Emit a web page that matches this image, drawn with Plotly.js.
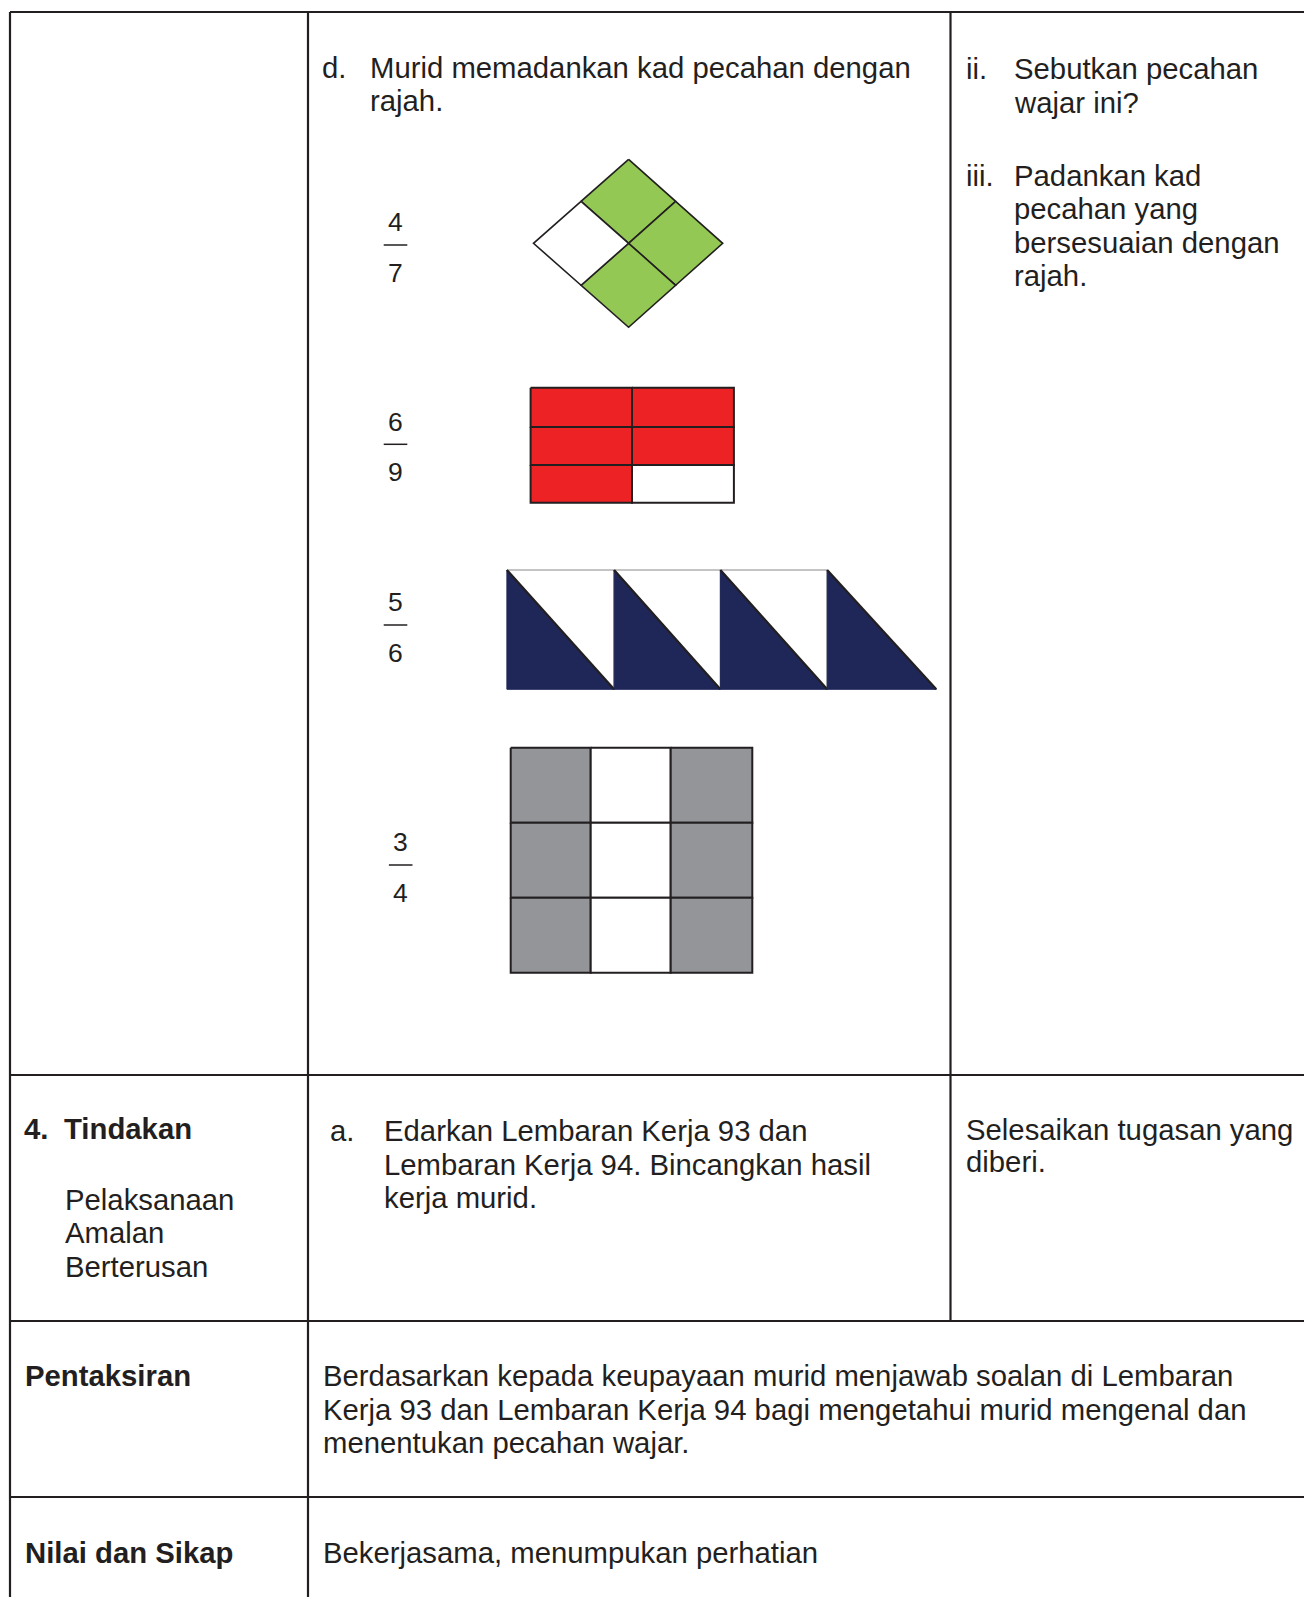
<!DOCTYPE html>
<html><head><meta charset="utf-8">
<script src="https://cdn.plot.ly/plotly-3.0.1.min.js"></script>
<style>html,body{margin:0;padding:0;background:#fff;}#chart{width:1304px;height:1597px;}</style>
</head><body><div id="chart"></div>
<script>
// ---------------- DATA ----------------
const fractionNumerators   = [4, 6, 5, 3];
const fractionDenominators = [7, 9, 6, 4];
// diamond quarters: top, right, bottom, left (1 = shaded)
const diamondShaded = [1, 1, 1, 0];
// rectangle 3 rows x 2 cols (1 = shaded)
const rectShaded = [[1, 1], [1, 1], [1, 0]];
// triangle units: lower triangle always shaded; upper white triangle present?
const triUpperPresent = [1, 1, 1, 0];
// grid 3 rows x 3 cols (1 = shaded)
const gridShaded = [[1, 0, 1], [1, 0, 1], [1, 0, 1]];

const rowDLabel = "d.";
const rowDLines = ["Murid memadankan kad pecahan dengan", "rajah."];
const qIILabel = "ii.";
const qIILines = ["Sebutkan pecahan", "wajar ini?"];
const qIIILabel = "iii.";
const qIIILines = ["Padankan kad", "pecahan yang", "bersesuaian dengan", "rajah."];
const tindakanNum = "4.";
const tindakanTitle = "Tindakan";
const tindakanSub = ["Pelaksanaan", "Amalan", "Berterusan"];
const tindakanALabel = "a.";
const tindakanALines = ["Edarkan Lembaran Kerja 93 dan", "Lembaran Kerja 94. Bincangkan hasil", "kerja murid."];
const tindakanMurid = ["Selesaikan tugasan yang", "diberi."];
const pentaksiranTitle = "Pentaksiran";
const pentaksiranLines = ["Berdasarkan kepada keupayaan murid menjawab soalan di Lembaran",
  "Kerja 93 dan Lembaran Kerja 94 bagi mengetahui murid mengenal dan",
  "menentukan pecahan wajar."];
const nilaiTitle = "Nilai dan Sikap";
const nilaiLines = ["Bekerjasama, menumpukan perhatian"];

// ---------------- STYLE / LAYOUT ----------------
const W = 1304, H = 1597;
const INK = "#231f20";
const FONT = "Liberation Sans, Arial, Helvetica, sans-serif";
const FS = 29.3, FRAC_FS = 26.5;
const GREEN = "#92c853", RED = "#ed2224", NAVY = "#1e2758", GREY = "#939598";

const traces = [];
const shapes = [];
const annotations = [];

function poly(xs, ys, fill, lc, lw) {
  traces.push({type: "scatter", mode: "lines", x: xs.concat([xs[0]]), y: ys.concat([ys[0]]),
    fill: "toself", fillcolor: fill, line: {color: lc, width: lw},
    hoverinfo: "skip", showlegend: false});
}
function hline(x0, x1, y, w, c) {
  shapes.push({type: "line", xref: "x", yref: "y", x0: x0, x1: x1, y0: y, y1: y, line: {color: c || INK, width: w}});
}
function vline(x, y0, y1, w, c) {
  shapes.push({type: "line", xref: "x", yref: "y", x0: x, x1: x, y0: y0, y1: y1, line: {color: c || INK, width: w}});
}
function text(t, x, baseline, opts) {
  opts = opts || {};
  const fs = opts.size || FS;
  annotations.push({text: opts.bold ? "<b>" + t + "</b>" : t, x: x - (opts.dx === undefined ? 1 : opts.dx),
    y: baseline - 0.3465 * fs, xref: "x", yref: "y", xanchor: opts.anchor || "left", yanchor: "middle",
    showarrow: false, borderpad: 0, borderwidth: 0,
    font: {family: FONT, size: fs, color: INK}});
}

// table grid
const tTop = 12, tLeft = 10, c1 = 308, c2 = 950.5, r1 = 1075, r2 = 1321, r3 = 1497;
hline(tLeft, W, tTop, 2.2);
hline(tLeft, W, r1, 2.2);
hline(tLeft, W, r2, 2.2);
hline(tLeft, W, r3, 2.2);
vline(tLeft, tTop, H, 2.2);
vline(c1, tTop, H, 2.2);
vline(c2, tTop, r2, 2.2);

// ---- diamond (4/7)
(function () {
  const T = [628.6, 159.3], R = [722.7, 243.3], B = [628.6, 327.3], L = [533.5, 243.3], C = [628.6, 243.3];
  const mid = (a, b) => [(a[0] + b[0]) / 2, (a[1] + b[1]) / 2];
  const TR = mid(T, R), BR = mid(B, R), BL = mid(B, L), TL = mid(T, L);
  const quads = [[T, TR, C, TL], [TR, R, BR, C], [C, BR, B, BL], [TL, C, BL, L]];
  quads.forEach((q, i) => poly(q.map(p => p[0]), q.map(p => p[1]), diamondShaded[i] ? GREEN : "#ffffff", INK, 1.6));
})();

// ---- rectangle (6/9)
(function () {
  const xs = [530.6, 632, 733.9], ys = [387.7, 427, 465, 502.7];
  rectShaded.forEach((row, r) => row.forEach((s, c) => {
    poly([xs[c], xs[c + 1], xs[c + 1], xs[c]], [ys[r], ys[r], ys[r + 1], ys[r + 1]], s ? RED : "#ffffff", INK, 2);
  }));
})();

// ---- triangles (5/6)
(function () {
  const xs = [506.9, 614.1, 720.4, 827.2, 936.3], top = 570, bot = 689.3;
  triUpperPresent.forEach((u, i) => {
    if (u) poly([xs[i], xs[i + 1], xs[i + 1]], [top, top, bot], "#ffffff", "#8a8a8a", 1.2);
  });
  triUpperPresent.forEach((u, i) => {
    const xr = xs[i + 1];
    poly([xs[i], xs[i], xr], [top, bot, bot], NAVY, NAVY, 1);
    traces.push({type: "scatter", mode: "lines", x: [xs[i], xr], y: [top, bot],
      line: {color: INK, width: 2.2}, hoverinfo: "skip", showlegend: false});
  });
})();

// ---- grid (3/4)
(function () {
  const xs = [510.7, 590.7, 670.7, 752.3], ys = [747.7, 822.7, 897.7, 972.7];
  gridShaded.forEach((row, r) => row.forEach((s, c) => {
    poly([xs[c], xs[c + 1], xs[c + 1], xs[c]], [ys[r], ys[r], ys[r + 1], ys[r + 1]], s ? GREY : "#ffffff", INK, 2);
  }));
})();

// ---- fractions
const fracPos = [[395.5, 245], [395.5, 444.3], [395.5, 625], [400.7, 865]];
fracPos.forEach((p, i) => {
  hline(p[0] - 11.8, p[0] + 11.8, p[1], 1.5);
  text(String(fractionNumerators[i]), p[0], p[1] - 13.5, {size: FRAC_FS, anchor: "center", dx: 0});
  text(String(fractionDenominators[i]), p[0], p[1] + 37.3, {size: FRAC_FS, anchor: "center", dx: 0});
});

// ---- texts
const LS = 33.5;
text(rowDLabel, 323, 77.3);
rowDLines.forEach((t, i) => text(t, 370.5, 77.3 + i * 33, {}));
text(qIILabel, 966.8, 79);
qIILines.forEach((t, i) => text(t, 1014.6, 79 + i * LS));
text(qIIILabel, 966.8, 185.5);
qIIILines.forEach((t, i) => text(t, 1014.6, 185.5 + i * LS));

text(tindakanNum, 25, 1138.5, {bold: true});
text(tindakanTitle, 64.5, 1138.5, {bold: true});
tindakanSub.forEach((t, i) => text(t, 65.5, 1209.5 + i * LS));
text(tindakanALabel, 330.5, 1141);
tindakanALines.forEach((t, i) => text(t, 384.5, 1141 + i * LS));
tindakanMurid.forEach((t, i) => text(t, 966.5, 1140 + i * 32));

text(pentaksiranTitle, 25.8, 1386, {bold: true});
pentaksiranLines.forEach((t, i) => text(t, 323.5, 1386 + i * LS));
text(nilaiTitle, 25.8, 1563, {bold: true});
nilaiLines.forEach((t, i) => text(t, 323.5, 1563 + i * LS));

const layout = {
  width: W, height: H, margin: {l: 0, r: 0, t: 0, b: 0, pad: 0},
  paper_bgcolor: "#ffffff", plot_bgcolor: "#ffffff", showlegend: false,
  xaxis: {range: [0, W], visible: false, fixedrange: true},
  yaxis: {range: [H, 0], visible: false, fixedrange: true},
  shapes: shapes, annotations: annotations, hovermode: false
};
Plotly.newPlot("chart", traces, layout, {staticPlot: true, displayModeBar: false});
</script></body></html>
